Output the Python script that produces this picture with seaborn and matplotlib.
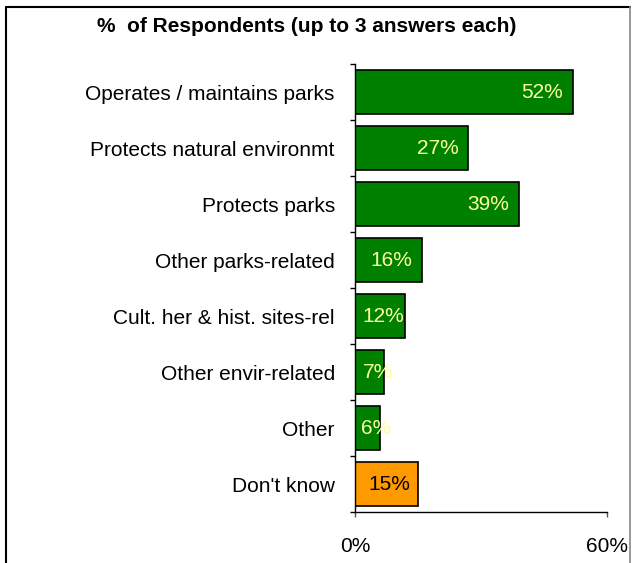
import matplotlib
matplotlib.use("Agg")
import matplotlib.pyplot as plt
from matplotlib.lines import Line2D
import seaborn as sns
import pandas as pd

categories = [
    "Operates / maintains parks",
    "Protects natural environmt",
    "Protects parks",
    "Other parks-related",
    "Cult. her & hist. sites-rel",
    "Other envir-related",
    "Other",
    "Don't know",
]
values = [52, 27, 39, 16, 12, 7, 6, 15]
groups = ["known"] * 7 + ["unknown"]
title = "%  of Respondents (up to 3 answers each)"
xtick_vals = [0, 60]
xtick_labels = ["0%", "60%"]

df = pd.DataFrame({"category": categories, "value": values, "group": groups})

sns.set_theme(style="white")
plt.rcParams["font.family"] = ["Liberation Sans", "DejaVu Sans"]

FS = 15

fig = plt.figure(figsize=(6.35, 5.63), dpi=100)
ax = fig.add_axes([355 / 635, 51 / 563, 252 / 635, 448 / 563])

palette = {"known": "#008000", "unknown": "#FF9900"}
sns.barplot(data=df, x="value", y="category", hue="group", palette=palette,
            dodge=False, orient="h", width=0.78, edgecolor="black",
            linewidth=1.2, legend=False, ax=ax, saturation=1)

ax.set_xlim(0, 60)
ax.set_ylim(len(categories) - 0.5, -0.5)
ax.set_xlabel("")
ax.set_ylabel("")

# value labels near the inside end of each bar; short bars push the
# label outward so it stays readable
for i, (v, g) in enumerate(zip(values, groups)):
    color = "#FFFF99" if g == "known" else "black"
    x_right = max(v - 2.4, 0.5 * v + 5.6)
    ax.text(x_right, i, f"{v}%", ha="right", va="center",
            fontsize=FS, color=color)

# spines
for s in ["top", "right"]:
    ax.spines[s].set_visible(False)
for s in ["left", "bottom"]:
    ax.spines[s].set_visible(True)
    ax.spines[s].set_color("black")
    ax.spines[s].set_linewidth(1.0)

# y ticks: labels at bar centres, tick marks at category boundaries
ax.set_yticks(range(len(categories)))
ax.set_yticklabels(categories)
ax.set_yticks([i - 0.5 for i in range(len(categories) + 1)], minor=True)
ax.tick_params(axis="y", which="major", length=0, pad=14.5, labelsize=FS,
               labelcolor="black")
ax.tick_params(axis="y", which="minor", left=True, length=3.6, width=1,
               color="black")

ax.set_xticks(xtick_vals)
ax.set_xticklabels(xtick_labels)
ax.tick_params(axis="x", which="major", bottom=True, direction="out",
               length=3.6, width=1, color="#555555", pad=14.5, labelsize=FS,
               labelcolor="black")

fig.text(307 / 635, 1 - 26 / 563, title, ha="center", va="center",
         fontsize=FS, fontweight="bold", color="black")

# chart frame (left, top, right edges)
fig.add_artist(Line2D([6 / 635, 6 / 635], [0, 1 - 7 / 563],
                      transform=fig.transFigure, color="black", lw=1.5))
fig.add_artist(Line2D([6 / 635, 630 / 635], [1 - 7 / 563, 1 - 7 / 563],
                      transform=fig.transFigure, color="black", lw=1.5))
fig.add_artist(Line2D([630 / 635, 630 / 635], [0, 1 - 7 / 563],
                      transform=fig.transFigure, color="#888888", lw=1.2))

fig.savefig("out.png", dpi=100)
